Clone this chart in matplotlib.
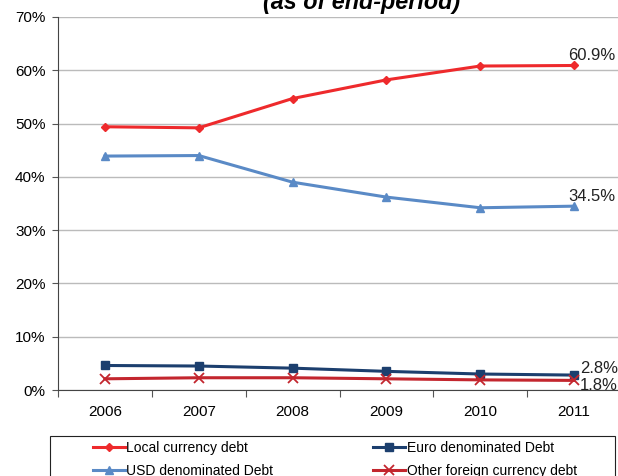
import matplotlib
matplotlib.use("Agg")
import matplotlib.pyplot as plt
from matplotlib.patches import Rectangle

plt.rcParams['font.family'] = ['Liberation Sans', 'DejaVu Sans']

years = ['2006', '2007', '2008', '2009', '2010', '2011']
local_debt = [49.4, 49.2, 54.7, 58.2, 60.8, 60.9]
usd_debt = [43.9, 44.0, 39.0, 36.2, 34.2, 34.5]
euro_debt = [4.6, 4.5, 4.1, 3.5, 3.0, 2.8]
other_debt = [2.1, 2.3, 2.3, 2.1, 1.9, 1.8]

W, H = 618, 476
fig = plt.figure(figsize=(W / 100, H / 100), dpi=100)
ax = fig.add_axes([58 / W, (H - 390) / H, (621 - 58) / W, (390 - 17) / H])

x = range(len(years))
ax.plot(x, local_debt, color='#EE2A2C', lw=2.2, marker='D', ms=4.5, label='Local currency debt')
ax.plot(x, euro_debt, color='#1C3F6E', lw=2.2, marker='s', ms=6, label='Euro denominated Debt')
ax.plot(x, usd_debt, color='#5A8AC6', lw=2.2, marker='^', ms=6, label='USD denominated Debt')
ax.plot(x, other_debt, color='#C3262E', lw=2.2, marker='x', ms=7, mew=1.3, label='Other foreign currency debt')

# end-of-period value labels
for vals, dx, dy in [(local_debt, -4, 7), (usd_debt, -4, 7), (euro_debt, 4, 5), (other_debt, 4, -4)]:
    t = ax.annotate(f'{vals[-1]:.1f}%', (5, vals[-1]), xytext=(dx, dy), textcoords='offset points',
                    fontsize=12, color='#222222', ha='left', va='center')
    t.set_clip_on(True)

ax.set_xlim(-0.5, 5.5)
ax.set_ylim(0, 70)
ax.set_yticks(range(0, 71, 10))
ax.set_yticklabels([f'{v}%' for v in range(0, 71, 10)], fontsize=11)
ax.yaxis.grid(True, color='#BBBBBB', lw=1)
ax.set_axisbelow(True)
ax.set_xticks([i - 0.5 for i in range(len(years) + 1)])
ax.set_xticklabels([])
ax.set_xticks(list(x), minor=True)
ax.set_xticklabels(years, minor=True, fontsize=11)
ax.tick_params(axis='x', which='minor', length=0, pad=11)
ax.tick_params(axis='x', which='major', length=5, direction='out', color='#555555')
ax.tick_params(axis='y', length=4, direction='out', color='#555555', pad=5)
for s in ['top', 'right']:
    ax.spines[s].set_visible(False)
ax.spines['left'].set_color('#444444')
ax.spines['bottom'].set_color('#444444')

fig.text(362 / W, 1 - 14 / H, 'Structure of the debt by currency\n(as of end-period)', ha='center',
         va='bottom', fontsize=16.8, fontweight='bold', style='italic', linespacing=1.1)

# legend box drawn separately so the entries can sit inset from its edges
fig.patches.append(Rectangle((50 / W, -0.05), 565 / W, (H - 436) / H + 0.05, transform=fig.transFigure,
                             fill=False, edgecolor='#222222', lw=0.8))
handles, labels = ax.get_legend_handles_labels()
order = [0, 2, 1, 3]
leg = fig.legend([handles[i] for i in order], [labels[i] for i in order], ncol=2,
                 loc='upper left', bbox_to_anchor=(93 / W, 1 - 441 / H),
                 fontsize=10, frameon=False, handlelength=2.3, handletextpad=0.1,
                 borderaxespad=0, borderpad=0, columnspacing=7.2, labelspacing=0.65)

fig.savefig('out.png', dpi=100)
